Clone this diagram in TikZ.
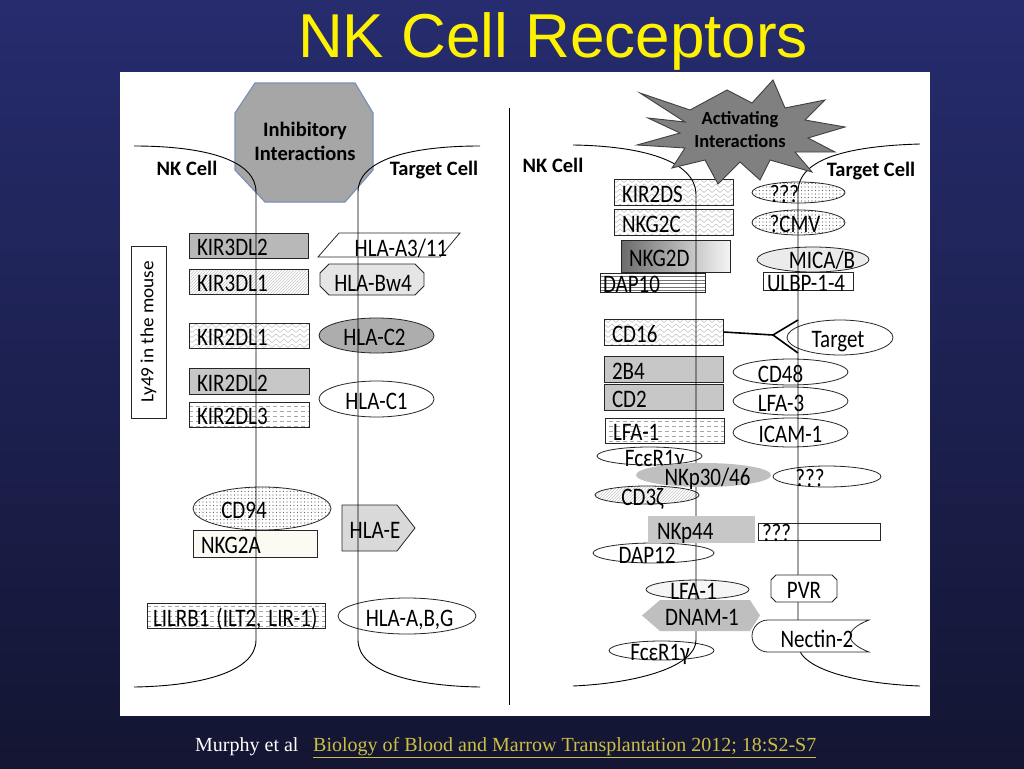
\documentclass[tikz,border=0pt]{standalone}
\usepackage{fontspec}
\usepackage{graphicx}
\setmainfont{Carlito}
\newfontfamily\titlefont{Liberation Sans}
\newfontfamily\citefont{Liberation Serif}
\usetikzlibrary{shapes.geometric,patterns}
\definecolor{bgtop}{HTML}{262C6E}
\definecolor{bgmid}{HTML}{212560}
\definecolor{bgbot}{HTML}{131532}
\definecolor{citey}{HTML}{CCBF45}
\definecolor{octb}{HTML}{7B8FB8}
\definecolor{offwhite}{HTML}{FBFBF4}
\newcommand{\vs}[1]{\raisebox{-4pt}{\scalebox{1}[1.2]{#1}}}
\newcommand{\sh}[2]{\makebox[0pt][c]{\hspace*{#1}\vs{#2}}}
\pgfdeclarepatternformonly{zigzag}{\pgfqpoint{-1pt}{-1pt}}{\pgfqpoint{9pt}{6pt}}{\pgfqpoint{8pt}{5pt}}{%
  \pgfsetlinewidth{0.5pt}%
  \pgfpathmoveto{\pgfqpoint{0pt}{0.5pt}}%
  \pgfpathlineto{\pgfqpoint{4pt}{4pt}}%
  \pgfpathlineto{\pgfqpoint{8pt}{0.5pt}}%
  \pgfusepath{stroke}}
\pgfdeclarepatternformonly{hdash}{\pgfqpoint{-0.5pt}{-0.5pt}}{\pgfqpoint{7.5pt}{5.5pt}}{\pgfqpoint{7pt}{5pt}}{%
  \pgfsetlinewidth{0.5pt}%
  \pgfpathmoveto{\pgfqpoint{0pt}{2pt}}%
  \pgfpathlineto{\pgfqpoint{4pt}{2pt}}%
  \pgfusepath{stroke}}
\pgfdeclarepatternformonly{hline}{\pgfqpoint{-0.5pt}{-0.5pt}}{\pgfqpoint{4.5pt}{4pt}}{\pgfqpoint{4pt}{3.5pt}}{%
  \pgfsetlinewidth{0.5pt}%
  \pgfpathmoveto{\pgfqpoint{-0.5pt}{1.5pt}}%
  \pgfpathlineto{\pgfqpoint{4.5pt}{1.5pt}}%
  \pgfusepath{stroke}}
\pgfdeclarepatternformonly{fdots}{\pgfqpoint{-1pt}{-1pt}}{\pgfqpoint{1pt}{1pt}}{\pgfqpoint{3.5pt}{3.5pt}}{%
  \pgfpathcircle{\pgfqpoint{0pt}{0pt}}{0.65pt}%
  \pgfusepath{fill}}
\begin{document}
\begin{tikzpicture}[x=1pt,y=-1pt,
  labfont/.style={font=\fontsize{21}{23}\selectfont},
  rbox/.style={labfont, draw=black!85, line width=0.8pt, rectangle, minimum height=25pt,
    inner xsep=8pt, inner ysep=0pt, align=left, text height=12pt, text depth=0pt},
  ell/.style={labfont, draw=black!85, line width=0.8pt, ellipse, inner sep=0pt,
    text height=12pt, text depth=0pt},
  shp/.style={draw=black!85, line width=0.8pt},
  lab/.style={labfont, inner sep=0pt, text height=12pt, text depth=0pt},
  head/.style={font=\bfseries\fontsize{20.5}{24}\selectfont, inner sep=0pt, align=center},
  membrane/.style={line width=0.9pt, black},
  ]
\useasboundingbox (0,0) rectangle (1024,768);
\shade[top color=bgtop, middle color=bgmid, bottom color=bgbot] (0,0) rectangle (1024,768);
\fill[white] (120,72) rectangle (930,716);
\node[font=\titlefont\fontsize{62}{62}\selectfont, text=yellow, anchor=base, inner sep=0pt] (title) at (553,58) {NK Cell Receptors};
\draw[line width=0.9pt] (509,108) coordinate (d1) -- (509,705) coordinate (d2);

% citation
\node[anchor=base west, font=\citefont\fontsize{20}{20}\selectfont, text=white, inner sep=0pt] (auth) at (195,751) {Murphy et al};
\node[anchor=base west, font=\citefont\fontsize{20}{20}\selectfont, text=citey, inner sep=0pt] (ref) at (313,751) {\underline{Biology of Blood and Marrow Transplantation 2012; 18:S2-S7}};

% ---------- left panel ----------
\filldraw[fill=black!35, draw=octb, line width=1.2pt] (255,83) -- (355,83) -- (373,113) -- (373,170) -- (345,202) -- (265,202) -- (235,170) -- (235,113) -- cycle;
\node[head] (inh) at (305,141.5) {Inhibitory\\Interactions};
\node[head, anchor=base] (nkl) at (187,175) {NK Cell};
\node[head, anchor=base] (tgl) at (434,175) {Target Cell};

\node[rbox, fill=black!28, text width=103pt] (k3l2) at (248.5,245.5) {\vs{KIR3DL2}};
\node[rbox, pattern=north east lines, pattern color=black!22, text width=103pt] (k3l1) at (248.5,281.5) {\vs{KIR3DL1}};
\node[rbox, pattern=zigzag, pattern color=black!25, text width=104pt] (k2l1) at (249,335.5) {\vs{KIR2DL1}};
\node[rbox, fill=black!22, minimum height=26pt, text width=104pt] (k2l2) at (249,381) {\vs{KIR2DL2}};
\node[rbox, pattern=hdash, pattern color=black!35, text width=104pt] (k2l3) at (249,414.5) {\vs{KIR2DL3}};
\node[rbox, fill=offwhite, minimum height=27pt, text width=108pt] (nkg2a) at (255,543.5) {\vs{NKG2A}};
\node[ell, pattern=fdots, pattern color=black!60, minimum width=138pt, minimum height=43pt] (cd94) at (262,508.5) {\sh{-36pt}{CD94}};
\node[rbox, pattern=hdash, pattern color=black!35, inner xsep=6pt, text width=166pt] (lilrb1) at (236,616) {\vs{LILRB1 (ILT2, LIR-1)}};
\node[font=\fontsize{18.5}{20}\selectfont, draw=black!85, line width=0.8pt, rotate=90, minimum width=172pt, minimum height=35pt, inner sep=0pt] (ly49) at (148.5,332) {\scalebox{1.04}[1]{Ly49 in the mouse}};

\filldraw[shp, fill=white] (318,257) -- (339,233) -- (460,233) -- (440,257) -- cycle;
\node[lab] (hlaa) at (401,246) {\vs{HLA-A3/11}};
\filldraw[shp, fill=black!10] (329,264) -- (415,264) -- (424,273) -- (424,286) -- (415,295) -- (329,295) -- (320,286) -- (320,273) -- cycle;
\node[lab] (hlabw) at (373,281) {\vs{HLA-Bw4}};
\node[ell, fill=black!32, minimum width=115pt, minimum height=35pt] (hlac2) at (376.5,335.5) {\sh{-4pt}{HLA-C2}};
\node[ell, fill=white, minimum width=115pt, minimum height=36pt] (hlac1) at (376.5,399) {\sh{0pt}{HLA-C1}};
\filldraw[shp, fill=black!15] (342,505) -- (397,505) -- (415,528) -- (397,551) -- (342,551) -- cycle;
\node[lab] (hlae) at (375,528) {\vs{HLA-E}};
\node[ell, fill=white, minimum width=138pt, minimum height=36pt] (hlaabg) at (407,616) {\sh{5pt}{HLA-A,B,G}};

% ---------- right panel ----------
\node[head, anchor=base] (nkr) at (553,172) {NK Cell};
\node[head, anchor=base] (tgr) at (871,176) {Target Cell};

\node[rbox, pattern=zigzag, pattern color=black!25, minimum height=26pt, text width=103pt] (kir2ds) at (673.5,192) {\vs{KIR2DS}};
\node[rbox, pattern=zigzag, pattern color=black!25, minimum height=26pt, text width=103pt] (nkg2c) at (673.5,222) {\vs{NKG2C}};
\node[ell, pattern=fdots, pattern color=black!60, minimum width=93pt, minimum height=21pt] (q1) at (798.5,192.5) {\sh{-28pt}{???}};
\node[ell, pattern=fdots, pattern color=black!60, minimum width=93pt, minimum height=25pt] (cmv) at (798.5,222.5) {\sh{-7pt}{?CMV}};
\node[rbox, left color=black!58, right color=black!4, minimum height=32pt, text width=93pt] (nkg2d) at (675.5,256) {\vs{NKG2D}};
\node[ell, fill=black!8, minimum width=112pt, minimum height=25pt] (micab) at (813,259.5) {\makebox[0pt][c]{\hspace*{18pt}\raisebox{-2.5pt}{\scalebox{1}[1.2]{MICA/B}}}};
\node[rbox, pattern=hline, pattern color=black!55, minimum height=19pt, inner xsep=3pt, text width=99pt] (dap10) at (652.5,282.5) {\vs{DAP10}};
\node[rbox, fill=white, minimum height=18pt, inner xsep=4pt, text width=82pt] (ulbp) at (808,281) {\vs{ULBP-1-4}};

\node[rbox, pattern=zigzag, pattern color=black!25, minimum height=26pt, text width=103pt] (cd16) at (663.5,332) {\vs{CD16}};
\node[ell, fill=white, minimum width=106pt, minimum height=35pt] (target) at (840,337.5) {\sh{-4pt}{Target}};
\coordinate (fk) at (773,335);
\coordinate (fu) at (798,320);
\coordinate (fd) at (798,353);
\draw[line width=1.6pt] (cd16.east) -- (fk) -- (fu);
\draw[line width=1.6pt] (fk) -- (fd);

\node[rbox, fill=black!22, minimum height=26pt, text width=103pt] (b2b4) at (663.5,369) {\vs{2B4}};
\node[rbox, fill=black!22, minimum height=26pt, text width=103pt] (cd2) at (663.5,397) {\vs{CD2}};
\node[ell, fill=white, minimum width=115pt, minimum height=26pt] (cd48) at (790.5,372) {\sh{-20pt}{CD48}};
\node[ell, fill=white, minimum width=115pt, minimum height=28pt] (lfa3) at (790.5,401) {\sh{-19pt}{LFA-3}};
\node[rbox, pattern=hdash, pattern color=black!35, text width=103pt] (lfa1) at (664.5,430.5) {\vs{LFA-1}};
\node[ell, fill=white, minimum width=115pt, minimum height=29pt] (icam1) at (790.5,432.5) {\sh{0pt}{ICAM-1}};
\node[ell, fill=white, minimum width=105pt, minimum height=18pt] (fce1) at (649.5,456) {\sh{10pt}{FcεR1γ}};
\node[ell, fill=white, minimum width=108pt, minimum height=21pt] (q2) at (827,476.5) {\sh{-34pt}{???}};
\node[ell, pattern=north east lines, pattern color=black!22, minimum width=104pt, minimum height=18pt] (cd3z) at (647,495) {\sh{-9pt}{CD3ζ}};
\node[rbox, fill=white, minimum height=17pt, inner xsep=4pt, text width=114pt] (q3) at (819,531.5) {\vs{???}};
\node[ell, fill=white, minimum width=121pt, minimum height=20pt] (dap12) at (653.5,553) {\sh{-13pt}{DAP12}};
\node[ell, fill=black!4, minimum width=103pt, minimum height=19pt] (lfa1b) at (697.5,589.5) {\sh{-8pt}{LFA-1}};
\node[ell, fill=white, minimum width=105pt, minimum height=19pt] (fce2) at (661.5,650.5) {\sh{-3pt}{FcεR1γ}};

% ---------- membranes ----------
\draw[membrane] (134,146) .. controls (205,146) and (256,160) .. (256,192) -- (256,640) .. controls (256,672) and (200,686) .. (134,687);
\draw[membrane] (480,146) .. controls (409,146) and (358,160) .. (358,192) -- (358,640) .. controls (358,672) and (414,686) .. (480,687);
\draw[membrane] (573,145) .. controls (640,146) and (696,160) .. (696,195) -- (696,640) .. controls (696,666) and (640,683) .. (573,686);
\draw[membrane] (920,144) .. controls (850,146) and (798,158) .. (798,192) -- (798,645) .. controls (800,670) and (860,684) .. (920,686);

% ---------- opaque receptors ----------
\node[ell, draw=none, fill=black!25, minimum width=135pt, minimum height=24pt] (nkp3046) at (703.5,475) {\sh{8pt}{NKp30/46}};
\node[rbox, draw=none, fill=black!22, minimum height=27pt, inner xsep=9pt, text width=89pt] (nkp44) at (701.5,529.5) {\vs{NKp44}};
\filldraw[shp, fill=white] (776,575) -- (832,575) -- (837,580) -- (837,597) -- (832,602) -- (776,602) -- (771,597) -- (771,580) -- cycle;
\node[lab] (pvr) at (804,588.5) {\vs{PVR}};
\fill[black!25] (642,615.5) -- (660,600) -- (750,600) -- (760,615.5) -- (750,631) -- (660,631) -- cycle;
\node[lab] (dnam1) at (702,615.5) {\vs{DNAM-1}};
\filldraw[shp, fill=white] (768,620) -- (869,620) .. controls (856,625) and (850,631) .. (850,636) .. controls (850,641) and (856,647) .. (869,652) -- (768,652) .. controls (759.2,652) and (752,644.8) .. (752,636) .. controls (752,627.2) and (759.2,620) .. (768,620) -- cycle;
\node[lab] (nectin) at (817,637) {\vs{Nectin-2}};

% ---------- activating star ----------
\filldraw[fill=black!50, draw=black!75, line width=0.9pt] (640,93) -- (690,110) -- (727,90) -- (752,103) -- (773,80) -- (785,108) -- (825,100) -- (805,120) -- (845,127) -- (808,138) -- (835,152) -- (795,152) -- (812,172) -- (770,160) -- (760,180) -- (740,162) -- (718,184) -- (705,160) -- (672,168) -- (685,148) -- (637,145) -- (680,133) -- (648,118) -- (685,122) -- cycle;
\node[head, font=\bfseries\fontsize{18.5}{23}\selectfont] (act) at (740,130) {Activating\\Interactions};
\end{tikzpicture}
\end{document}
